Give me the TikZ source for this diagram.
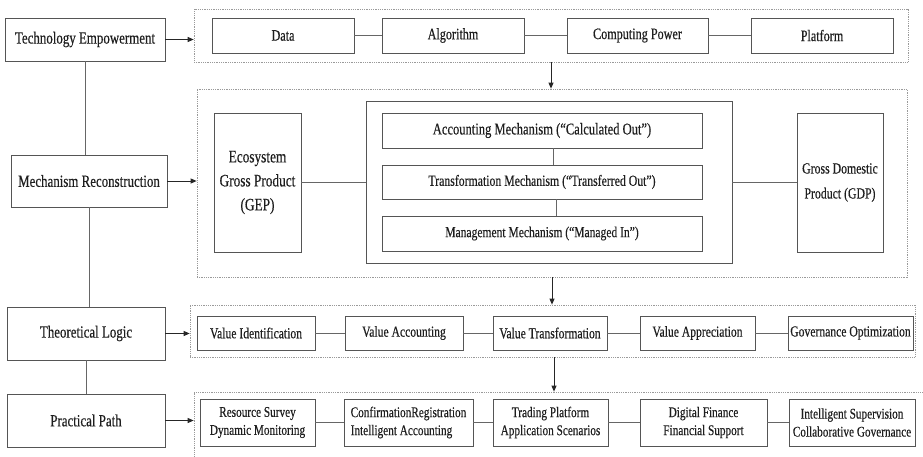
\documentclass[tikz,border=0pt]{standalone}
\usepackage{fontspec}
\setmainfont{Liberation Serif}[FakeStretch=0.76,FakeBold=0.4]
\usetikzlibrary{arrows.meta}
\definecolor{boxc}{HTML}{555555}
\definecolor{framec}{HTML}{9A9A9A}
\definecolor{linec}{HTML}{666666}
\definecolor{txt}{HTML}{1E1E1E}
\newcommand\setfs[2]{\fontsize{#1}{#2}\selectfont}
\begin{document}
\begin{tikzpicture}[x=1pt,y=-1pt,
  box/.style={draw=boxc, line width=0.9pt, rectangle, inner sep=0pt, text=txt, align=center},
  frame/.style={draw=framec, line width=0.7pt, dash pattern=on 0.9pt off 0.9pt, rectangle, inner sep=0pt},
  link/.style={draw=linec, line width=0.9pt},
  arr/.style={draw=black!85, line width=0.9pt, -{Triangle[length=6pt,width=5pt]}},
  leftbox/.style={box, font=\setfs{17}{20}},
  rowone/.style={box, minimum height=35pt, font=\setfs{16}{19}},
  rowthree/.style={box, minimum height=34pt, font=\setfs{15.3}{18}},
  rowfour/.style={box, minimum height=47pt, font=\setfs{14.8}{18}},
  mechbox/.style={box, minimum width=320pt},
]
\useasboundingbox (0,0) rectangle (923,456);
\clip (0,0) rectangle (923,456);

% left column
\node[leftbox, minimum width=160pt, minimum height=43pt] (tech) at (85,39.5) {Technology Empowerment};
\node[leftbox, minimum width=156pt, minimum height=52pt] (mech) at (89,181) {Mechanism Reconstruction};
\node[leftbox, minimum width=158pt, minimum height=53pt] (theo) at (86,333.5) {Theoretical Logic};
\node[leftbox, minimum width=158pt, minimum height=53pt] (prac) at (86,420.5) {Practical Path};

% frames
\node[frame, minimum width=714pt, minimum height=53pt] (f1) at (551,35.5) {};
\node[frame, minimum width=710pt, minimum height=188pt] (f2) at (552,183) {};
\node[frame, minimum width=725pt, minimum height=52pt] (f3) at (552.5,331) {};
\node[frame, minimum width=731pt, minimum height=80pt] (f4) at (559.5,432) {};

% row 1
\node[rowone, minimum width=142pt] (data) at (283,35.5) {Data};
\node[rowone, minimum width=142pt] (algo) at (453,35.5) {Algorithm};
\node[rowone, minimum width=141pt] (comp) at (637.5,35.5) {Computing Power};
\node[rowone, minimum width=142pt] (plat) at (822,35.5) {Platform};

% frame 2 content
\node[box, minimum width=87pt, minimum height=139pt, font=\setfs{17.5}{24}] (gep) at (257.5,182.5) {Ecosystem\\Gross Product\\(GEP)};
\node[box, minimum width=366pt, minimum height=162pt] (inner) at (549,182) {};
\node[mechbox, minimum height=35pt, font=\setfs{16.5}{19}] (acc) at (542,130.5) {Accounting Mechanism (“Calculated Out”)};
\node[mechbox, minimum height=34pt, font=\setfs{15.5}{18}] (trans) at (542,182) {Transformation Mechanism (“Transferred Out”)};
\node[mechbox, minimum height=35pt, font=\setfs{15.2}{18}] (mgmt) at (542,233.5) {Management Mechanism (“Managed In”)};
\node[box, minimum width=86pt, minimum height=139pt, font=\setfs{15.5}{25}] (gdp) at (840,182.5) {Gross Domestic\\Product (GDP)};

% row 3
\node[rowthree, minimum width=118pt] (vid) at (256,333) {Value Identification};
\node[rowthree, minimum width=118pt] (vacc) at (404,333) {Value Accounting};
\node[rowthree, minimum width=114pt] (vtr) at (550,333) {Value Transformation};
\node[rowthree, minimum width=115pt] (vapp) at (697.5,333) {Value Appreciation};
\node[rowthree, minimum width=125pt] (gov) at (850.5,333) {Governance Optimization};

% row 4
\node[rowfour, minimum width=115pt] (res) at (257.5,422.5) {Resource Survey\\Dynamic Monitoring};
\node[rowfour, minimum width=129pt, align=left] (conf) at (408.5,422.5) {ConfirmationRegistration\\Intelligent Accounting};
\node[rowfour, minimum width=115pt] (trad) at (550.5,422.5) {Trading Platform\\Application Scenarios};
\node[rowfour, minimum width=127pt] (dig) at (703.5,422.5) {Digital Finance\\Financial Support};
\node[rowfour, minimum width=126pt] (intel) at (852,422.5) {Intelligent Supervision\\Collaborative Governance};

% left column links
\draw[link] (tech.south) -- (tech.south |- mech.north);
\draw[link] (mech.south) -- (mech.south |- theo.north);
\draw[link] (theo.south) -- (theo.south |- prac.north);

% arrows into frames
\draw[arr] (tech.east) -- (tech.east -| f1.west);
\draw[arr] (mech.east) -- (mech.east -| f2.west);
\draw[arr] (theo.east) -- (theo.east -| f3.west);
\draw[arr] (prac.east) -- (prac.east -| f4.west);

% arrows between frames
\draw[arr] (f1.south) -- (f1.south |- f2.north);
\draw[arr] (f2.south) -- (f2.south |- f3.north);
\draw[arr] ([xshift=1.5pt]f3.south) -- ([xshift=1.5pt]f3.south |- f4.north);

% row links
\draw[link] (data) -- (algo);
\draw[link] (algo) -- (comp);
\draw[link] (comp) -- (plat);
\draw[link] (gep.east) -- (gep.east -| inner.west);
\draw[link] (inner.east) -- (inner.east -| gdp.west);
\draw[link] ([xshift=11pt]acc.south) -- ([xshift=11pt]trans.north);
\draw[link] ([xshift=14pt]trans.south) -- ([xshift=14pt]mgmt.north);
\draw[link] (vid) -- (vacc);
\draw[link] (vacc) -- (vtr);
\draw[link] (vtr) -- (vapp);
\draw[link] (vapp) -- (gov);
\draw[link] (res) -- (conf);
\draw[link] (conf) -- (trad);
\draw[link] (trad) -- (dig);
\draw[link] (dig) -- (intel);
\end{tikzpicture}
\end{document}
